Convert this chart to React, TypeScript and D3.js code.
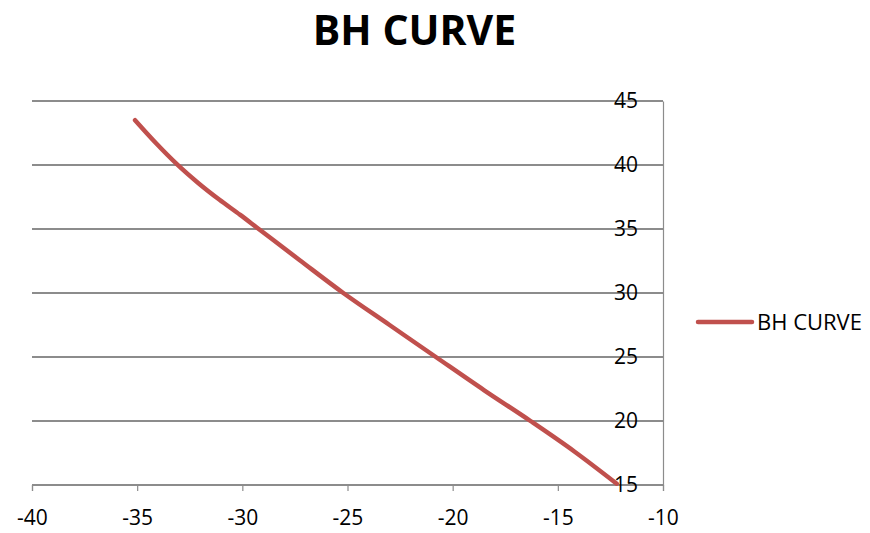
import React, { useEffect, useRef } from "react";
import * as d3 from "d3";

const H_VALUES: number[] = [-35.1, -34.1, -33.1, -32.1, -31.1, -30.1, -29.3, -27.3, -25.2, -23.0, -20.8, -18.5, -16.3, -14.2, -12.2];
const B_VALUES: number[] = [43.5, 41.7, 40.05, 38.6, 37.3, 36.1, 35.1, 32.6, 30.0, 27.5, 25.0, 22.4, 20.0, 17.6, 15.1];
const X_TICKS: number[] = [-40, -35, -30, -25, -20, -15, -10];
const Y_TICKS: number[] = [15, 20, 25, 30, 35, 40, 45];
const TITLE = "BH CURVE";
const SERIES_NAME = "BH CURVE";

const W = 870;
const HGT = 533;
const FONT = "'Open Sans', 'Liberation Sans', sans-serif";
const LINE_COLOR = "#C0504D";
const GRID_COLOR = "#8c8c8c";

export default function App() {
  const ref = useRef<SVGSVGElement>(null);

  useEffect(() => {
    const svg = d3.select(ref.current);
    svg.selectAll("*").remove();

    const x = d3.scaleLinear().domain([-40, -10]).range([32, 663]);
    const y = d3.scaleLinear().domain([15, 45]).range([485, 101]);

    // title
    svg.append("text")
      .attr("x", 414.5)
      .attr("y", 45)
      .attr("text-anchor", "middle")
      .attr("font-family", FONT)
      .attr("font-weight", "bold")
      .attr("font-size", 41)
      .attr("fill", "#000")
      .text(TITLE);

    // gridlines
    svg.append("g")
      .selectAll("line")
      .data(Y_TICKS)
      .join("line")
      .attr("x1", x(-40))
      .attr("x2", x(-10))
      .attr("y1", (d) => y(d))
      .attr("y2", (d) => y(d))
      .attr("stroke", GRID_COLOR)
      .attr("stroke-width", 1.2)
      .attr("shape-rendering", "crispEdges");

    // x axis
    const xAxis = d3.axisBottom(x).tickValues(X_TICKS).tickSize(6).tickPadding(19).tickFormat((d) => String(d));
    const gx = svg.append("g").attr("transform", `translate(0,${y(15)})`).call(xAxis);
    gx.select(".domain").attr("stroke", GRID_COLOR).attr("stroke-width", 1.2);
    gx.selectAll(".tick line").attr("stroke", GRID_COLOR).attr("stroke-width", 1.2);
    gx.selectAll(".tick text")
      .attr("font-family", FONT)
      .attr("font-size", 21)
      .attr("fill", "#000")
      .attr("dy", "0.71em");

    // y axis at right (x = -10), labels drawn to the left
    const yAxis = d3.axisLeft(y).tickValues(Y_TICKS).tickSize(0).tickPadding(25).tickFormat((d) => String(d));
    const gy = svg.append("g").attr("transform", `translate(${x(-10)},0)`).call(yAxis);
    gy.select(".domain").attr("stroke", GRID_COLOR).attr("stroke-width", 1.2);
    gy.selectAll(".tick text")
      .attr("font-family", FONT)
      .attr("font-size", 21)
      .attr("fill", "#000");

    // data line
    const pts: [number, number][] = H_VALUES.map((h, i) => [h, B_VALUES[i]]);
    const line = d3.line<[number, number]>()
      .x((d) => x(d[0]))
      .y((d) => y(d[1]))
      .curve(d3.curveMonotoneX);
    svg.append("path")
      .datum(pts)
      .attr("d", line)
      .attr("fill", "none")
      .attr("stroke", LINE_COLOR)
      .attr("stroke-width", 4.5)
      .attr("stroke-linecap", "round")
      .attr("stroke-linejoin", "round");

    // legend
    svg.append("line")
      .attr("x1", 698)
      .attr("x2", 752)
      .attr("y1", 322)
      .attr("y2", 322)
      .attr("stroke", LINE_COLOR)
      .attr("stroke-width", 4.5)
      .attr("stroke-linecap", "round");
    svg.append("text")
      .attr("x", 757)
      .attr("y", 322)
      .attr("dy", "0.35em")
      .attr("font-family", FONT)
      .attr("font-size", 22)
      .attr("fill", "#000")
      .text(SERIES_NAME);
  }, []);

  return (
    <svg
      ref={ref}
      width={W}
      height={HGT}
      style={{ position: "absolute", left: 0, top: 0, background: "#fff" }}
    />
  );
}
